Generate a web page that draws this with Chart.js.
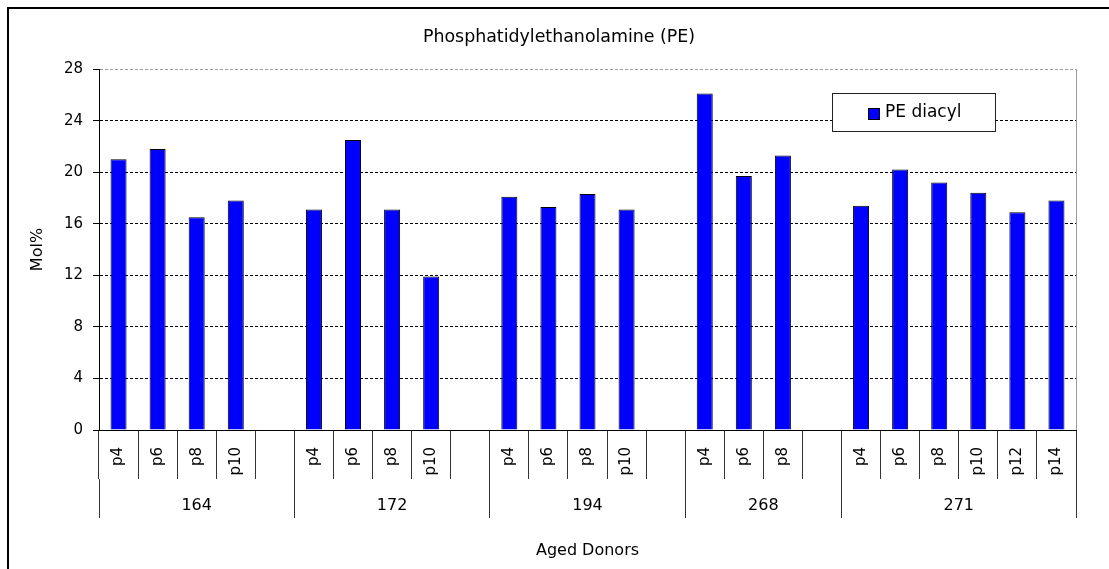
<!DOCTYPE html>
<html>
<head>
<meta charset="utf-8">
<title>Phosphatidylethanolamine (PE)</title>
<script src="https://cdn.jsdelivr.net/npm/chart.js@4/dist/chart.umd.min.js"></script>
<style>
    html, body { margin: 0; padding: 0; background: #fff; overflow: hidden; }
    canvas { display: block; }
</style>
</head>
<body>
<canvas id="peChart" width="1109" height="569"></canvas>
<script>
// Donors and their passages
const donors = ['164', '172', '194', '268', '271'];
const passages = [
    ['p4', 'p6', 'p8', 'p10'],
    ['p4', 'p6', 'p8', 'p10'],
    ['p4', 'p6', 'p8', 'p10'],
    ['p4', 'p6', 'p8'],
    ['p4', 'p6', 'p8', 'p10', 'p12', 'p14']
];
// PE diacyl, Mol%
const peDiacyl = [
    [21.0, 21.8, 16.5, 17.8],
    [17.1, 22.5, 17.1, 11.9],
    [18.1, 17.3, 18.3, 17.1],
    [26.1, 19.7, 21.3],
    [17.4, 20.2, 19.2, 18.4, 16.9, 17.8]
];
const yTickValues = [0, 4, 8, 12, 16, 20, 24, 28];

// flatten groups, one empty slot between donors
const labels = [];
const values = [];
const groupBounds = [];
const groupCenters = [];
passages.forEach((list, g) => {
    const start = labels.length;
    list.forEach((p, i) => {
        labels.push(p);
        values.push(peDiacyl[g][i]);
    });
    if (g < passages.length - 1) {
        labels.push('');
        values.push(null);
    }
    const end = labels.length;
    if (g === 0) groupBounds.push(start - 0.5);
    groupBounds.push(end - 0.5);
    groupCenters.push((start + end - 1) / 2);
});

// outer frame, grey plot border on the right, legend box inside the plot
const boxLegend = {
    id: 'boxLegend',
    beforeDraw(chart) {
        const { ctx, width, height } = chart;
        ctx.save();
        ctx.fillStyle = '#fff';
        ctx.fillRect(0, 0, width, height);
        ctx.strokeStyle = '#000';
        ctx.lineWidth = 2;
        ctx.beginPath();
        ctx.moveTo(8, height);
        ctx.lineTo(8, 8);
        ctx.lineTo(width, 8);
        ctx.stroke();
        ctx.restore();
    },
    beforeDatasetsDraw(chart) {
        const { ctx, chartArea } = chart;
        ctx.save();
        ctx.strokeStyle = '#999';
        ctx.lineWidth = 1;
        ctx.beginPath();
        ctx.moveTo(Math.round(chartArea.right) + 0.5, chartArea.top);
        ctx.lineTo(Math.round(chartArea.right) + 0.5, chartArea.bottom);
        ctx.stroke();
        ctx.restore();
    },
    afterDatasetsDraw(chart) {
        const { ctx, chartArea } = chart;
        const ds = chart.data.datasets[0];
        const x = Math.round(chartArea.right - 244);
        const y = Math.round(chartArea.top + 24);
        ctx.save();
        ctx.fillStyle = '#fff';
        ctx.fillRect(x, y, 163, 38);
        ctx.strokeStyle = '#222';
        ctx.lineWidth = 1;
        ctx.strokeRect(x + 0.5, y + 0.5, 163, 38);
        ctx.fillStyle = ds.backgroundColor;
        ctx.fillRect(x + 36, y + 15, 12, 12);
        ctx.strokeStyle = '#000';
        ctx.strokeRect(x + 36.5, y + 15.5, 11, 11);
        ctx.fillStyle = '#000';
        ctx.font = '17px "DejaVu Sans"';
        ctx.textBaseline = 'middle';
        ctx.fillText(ds.label, x + 53, y + 20);
        ctx.restore();
    }
};

Chart.defaults.font.family = '"DejaVu Sans", sans-serif';
Chart.defaults.color = '#000';

new Chart(document.getElementById('peChart'), {
    type: 'bar',
    data: {
        labels: labels,
        datasets: [{
            label: 'PE diacyl',
            data: values,
            backgroundColor: '#0000ff',
            borderColor: '#000',
            borderWidth: 1,
            barPercentage: 0.41,
            categoryPercentage: 1
        }]
    },
    options: {
        responsive: false,
        animation: false,
        layout: { padding: { left: 42, right: 33, top: 0, bottom: 0 } },
        plugins: {
            legend: { display: false },
            tooltip: { enabled: false },
            title: {
                display: true,
                text: 'Phosphatidylethanolamine (PE)',
                font: { size: 17.4, weight: 'normal' },
                color: '#000',
                padding: { top: 27, bottom: 21.2 }
            }
        },
        scales: {
            y: {
                min: 0,
                max: 28,
                afterBuildTicks: (scale) => {
                    scale.ticks = yTickValues.map(v => ({ value: v }));
                },
                afterFit: (scale) => { scale.width = 57; },
                ticks: { font: { size: 15 }, padding: 10, color: '#000' },
                grid: {
                    color: (c) => c.tick && c.tick.value === 28 ? '#999' : '#000',
                    tickColor: '#000',
                    tickLength: 6
                },
                border: { display: true, color: '#000', width: 1, dash: [3, 2] },
                title: {
                    display: true,
                    text: 'Mol%',
                    font: { size: 16 },
                    padding: { top: -13.6, bottom: 0 }
                }
            },
            x: {
                weight: 0,
                offset: true,
                afterFit: (scale) => { scale.height = 49; },
                ticks: {
                    autoSkip: false,
                    minRotation: 90,
                    maxRotation: 90,
                    padding: -32,
                    font: { size: 15 },
                    color: '#000'
                },
                grid: {
                    offset: true,
                    drawOnChartArea: false,
                    color: '#333',
                    tickLength: 49
                },
                border: { display: true, color: '#000', width: 1 }
            },
            x2: {
                type: 'linear',
                position: 'bottom',
                weight: 1,
                offset: false,
                min: groupBounds[0],
                max: groupBounds[groupBounds.length - 1],
                bounds: 'data',
                afterBuildTicks: (scale) => {
                    scale.ticks = groupBounds.concat(groupCenters)
                        .sort((a, b) => a - b)
                        .map(v => ({ value: v }));
                },
                afterFit: (scale) => { scale.height = 90; },
                ticks: {
                    autoSkip: false,
                    maxRotation: 0,
                    padding: -22,
                    font: { size: 16 },
                    color: '#000',
                    callback: (value) => {
                        const g = groupCenters.indexOf(value);
                        return g >= 0 ? donors[g] : '';
                    }
                },
                grid: {
                    offset: false,
                    drawOnChartArea: false,
                    tickLength: 39,
                    color: (c) => c.tick && groupBounds.includes(c.tick.value) ? '#333' : 'rgba(0,0,0,0)'
                },
                border: { display: false },
                title: {
                    display: true,
                    text: 'Aged Donors',
                    font: { size: 16 },
                    padding: { top: 0, bottom: 8.4 }
                }
            }
        }
    },
    plugins: [boxLegend]
});
</script>
</body>
</html>
